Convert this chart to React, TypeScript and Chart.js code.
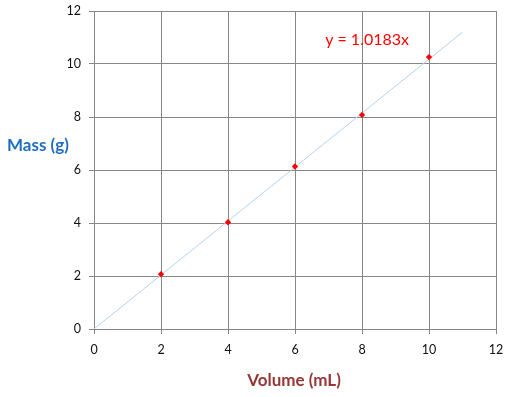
import React, { useEffect, useRef } from "react";
import { Chart, registerables } from "chart.js";

Chart.register(...registerables);

const volumes = [2, 4, 6, 8, 10];
const masses = [2.07, 4.03, 6.13, 8.08, 10.26];
const trendX = [0, 11];
const trendY = [0, 11.2013];
const equationText = "y = 1.0183x";
const xTitle = "Volume (mL)";
const yTitle = "Mass (g)";

const FONT = "Lato, 'Open Sans', sans-serif";

const titlesPlugin = {
  id: "customTitles",
  afterDraw(chart: any) {
    const { ctx, scales } = chart;
    const xs = scales.x;
    const ys = scales.y;
    ctx.save();
    ctx.fillStyle = "#ff0000";
    ctx.font = `16px ${FONT}`;
    ctx.textAlign = "left";
    ctx.textBaseline = "middle";
    ctx.fillText(equationText, xs.getPixelForValue(6.9), ys.getPixelForValue(10.9));
    ctx.fillStyle = "#1f6fc1";
    ctx.font = `bold 17px ${FONT}`;
    ctx.textAlign = "left";
    ctx.fillText(yTitle, 7, 146);
    ctx.fillStyle = "#953735";
    ctx.textAlign = "center";
    ctx.fillText(xTitle, 294, 381);
    ctx.restore();
  },
};

export default function App() {
  const ref = useRef<HTMLCanvasElement | null>(null);
  useEffect(() => {
    if (!ref.current) return;
    const gridColor = "#878787";
    const chart = new Chart(ref.current, {
      type: "scatter",
      data: {
        datasets: [
          {
            label: "data",
            data: volumes.map((v, i) => ({ x: v, y: masses[i] })),
            pointStyle: "rectRot",
            pointRadius: 3.2,
            backgroundColor: "#ff0000",
            borderColor: "#ff0000",
            borderWidth: 0,
            showLine: false,
            order: 0,
          },
          {
            label: "trend",
            data: trendX.map((v, i) => ({ x: v, y: trendY[i] })),
            showLine: true,
            borderColor: "#b3d1f2",
            borderWidth: 1,
            pointRadius: 0,
            order: 1,
          },
        ],
      },
      options: {
        animation: false,
        responsive: false,
        layout: { padding: { top: 11, right: 16, left: 0, bottom: 0 } },
        plugins: { legend: { display: false }, tooltip: { enabled: false } },
        scales: {
          x: {
            type: "linear",
            min: 0,
            max: 12,
            ticks: { stepSize: 2, color: "#111", font: { family: FONT, size: 12.5 }, padding: 8 },
            grid: { color: gridColor, tickLength: 5, lineWidth: 1 },
            border: { color: gridColor },
            afterFit: (s: any) => {
              s.height = 397 - 329;
              s.paddingLeft = 0;
              s.paddingRight = 0;
            },
          },
          y: {
            type: "linear",
            min: 0,
            max: 12,
            ticks: { stepSize: 2, color: "#111", font: { family: FONT, size: 12.5 }, padding: 8 },
            grid: { color: gridColor, tickLength: 5, lineWidth: 1 },
            border: { color: gridColor },
            afterFit: (s: any) => {
              s.width = 94;
              s.paddingTop = 0;
              s.paddingBottom = 0;
            },
          },
        },
      },
      plugins: [titlesPlugin],
    });
    return () => chart.destroy();
  }, []);
  return (
    <div style={{ position: "fixed", left: 0, top: 0, width: 512, height: 397, background: "#fff" }}>
      <canvas ref={ref} width={512} height={397} style={{ display: "block" }} />
    </div>
  );
}
